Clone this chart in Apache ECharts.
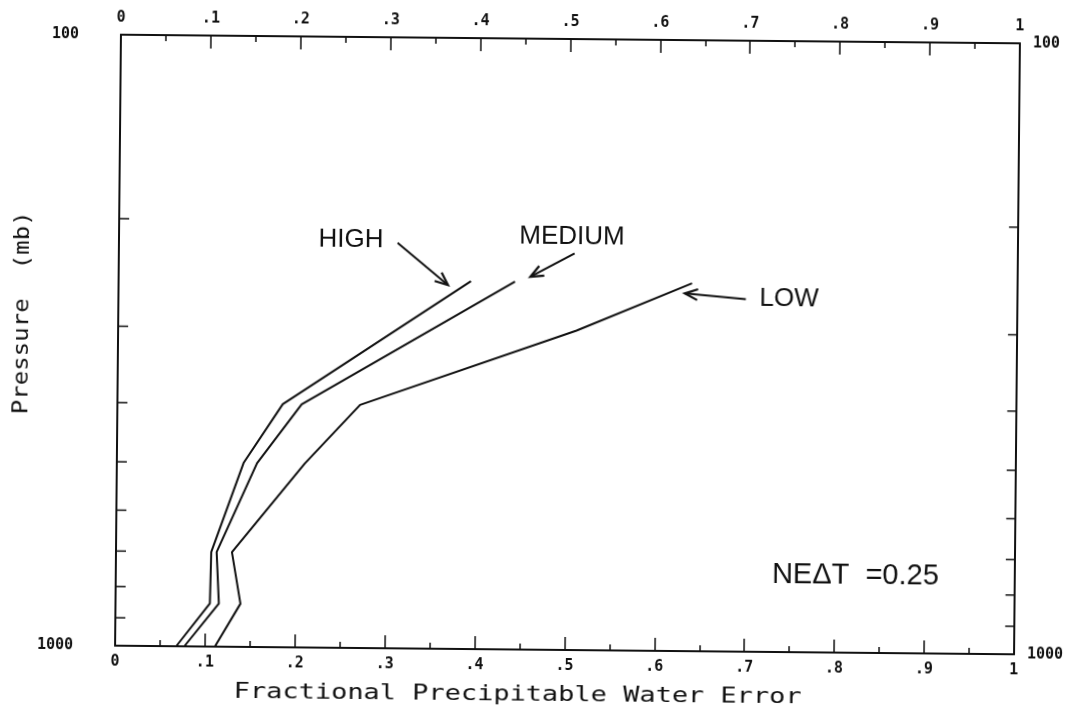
<!DOCTYPE html>
<html>
<head>
<meta charset="utf-8">
<script src="https://cdn.jsdelivr.net/npm/echarts@6.0.0/dist/echarts.min.js"></script>
<style>
  html, body { margin: 0; padding: 0; background: #ffffff; overflow: hidden; }
  /* the printed sheet sits slightly skewed */
  #chart { width: 1069px; height: 710px; transform: rotate(0.55deg); transform-origin: 568px 344px; }
</style>
</head>
<body>
<div id="chart"></div>
<script>
// Fractional precipitable water error vs. pressure level, three cases.
const highLevels   = [1000, 850, 700, 500, 400, 250];
const highError    = [0.068, 0.105, 0.106, 0.141, 0.184, 0.392];
const mediumLevels = [1000, 850, 700, 500, 400, 250];
const mediumError  = [0.077, 0.115, 0.112, 0.156, 0.205, 0.441];
const lowLevels    = [1000, 850, 700, 500, 400, 300, 250];
const lowError     = [0.111, 0.139, 0.129, 0.209, 0.270, 0.510, 0.638];

// Axis ticks
const pressureTicks = [200, 300, 400, 500, 600, 700, 800, 900];
const pressureRange = [100, 1000];
const errorRange = [0, 1];

// Curve call-outs (text position, arrow tail, arrow head) in data units
const callouts = [
  { text: 'HIGH',   at: [0.258, 214.7], from: [0.310, 216.9], to: [0.3665, 253.9] },
  { text: 'MEDIUM', at: [0.504, 210.7], from: [0.507, 224.4], to: [0.458, 245.4] },
  { text: 'LOW',    at: [0.746, 264.5], from: [0.698, 264.9], to: [0.630, 259.8] }
];
const noteText = 'NE\u0394T  =0.25';
const noteAt = [0.730, 748];

const xTitle = 'Fractional Precipitable Water Error';
const yTitle = 'Pressure  (mb)';

const ink = '#111111';
const monoFont = '"DejaVu Sans Mono", monospace';
const sansFont = '"Liberation Sans", Arial, sans-serif';

function pairs(xs, ps) { return ps.map((p, i) => [xs[i], p]); }

function fmtX(v) {
  const r = Math.round(v * 10);
  if (r === 0) return '0';
  if (r === 10) return '1';
  return '.' + r;
}

const axisLineStyle = { show: true, onZero: false, lineStyle: { color: ink, width: 2 } };
const labelStyle = { color: ink, fontFamily: monoFont, fontWeight: 'bold', fontSize: 15 };

function xAxisDef(position, major) {
  return {
    type: 'value', position: position,
    min: errorRange[0], max: errorRange[1], interval: major ? 0.1 : 0.05,
    axisLine: major ? axisLineStyle : { show: false, onZero: false },
    axisTick: { show: true, inside: true, length: major ? 13 : 6, lineStyle: { color: ink, width: 1.5 } },
    axisLabel: major ? Object.assign({ show: true, margin: 9, formatter: fmtX }, labelStyle) : { show: false },
    splitLine: { show: false }
  };
}

function yAxisDef(position, margin) {
  return {
    type: 'log', logBase: 10, position: position, inverse: true,
    min: pressureRange[0], max: pressureRange[1],
    axisLine: axisLineStyle,
    axisTick: { show: false },
    axisLabel: Object.assign({ show: true, margin: margin, formatter: v => String(Math.round(v)) }, labelStyle),
    splitLine: { show: false }
  };
}

const lineSeries = (name, data) => ({
  name: name, type: 'line', xAxisIndex: 0, yAxisIndex: 0,
  data: data, symbol: 'none', silent: true, animation: false,
  lineStyle: { color: ink, width: 2 }
});

const chart = echarts.init(document.getElementById('chart'), null, { renderer: 'canvas' });

chart.setOption({
  backgroundColor: '#ffffff',
  animation: false,
  grid: { left: 118, right: 51, top: 39, bottom: 60, containLabel: false },
  xAxis: [xAxisDef('bottom', true), xAxisDef('top', true), xAxisDef('bottom', false), xAxisDef('top', false)],
  yAxis: [yAxisDef('left', 42), yAxisDef('right', 13)],
  series: [
    lineSeries('HIGH', pairs(highError, highLevels)),
    lineSeries('MEDIUM', pairs(mediumError, mediumLevels)),
    lineSeries('LOW', pairs(lowError, lowLevels)),
    {
      // pressure ticks on both vertical frame edges
      type: 'custom', xAxisIndex: 0, yAxisIndex: 0, silent: true, clip: false,
      data: pressureTicks.map(p => [errorRange[0], p]),
      renderItem: (params, api) => {
        const p = api.value(1);
        const l = api.coord([errorRange[0], p]);
        const r = api.coord([errorRange[1], p]);
        return {
          type: 'group',
          children: [
            { type: 'line', shape: { x1: l[0], y1: l[1], x2: l[0] + 10, y2: l[1] }, style: { stroke: ink, lineWidth: 1.5 } },
            { type: 'line', shape: { x1: r[0] - 9, y1: r[1], x2: r[0], y2: r[1] }, style: { stroke: ink, lineWidth: 1.5 } }
          ]
        };
      }
    }
  ]
});

// Annotations are placed from data units through the chart's own coordinate system
const toPx = pt => chart.convertToPixel({ seriesIndex: 0 }, pt);

function arrowHead(tail, head, len, spread) {
  const ang = Math.atan2(head[1] - tail[1], head[0] - tail[0]);
  const a1 = ang + Math.PI - spread, a2 = ang + Math.PI + spread;
  return [
    [head[0] + len * Math.cos(a1), head[1] + len * Math.sin(a1)],
    head,
    [head[0] + len * Math.cos(a2), head[1] + len * Math.sin(a2)]
  ];
}

const graphics = [];
callouts.forEach(c => {
  const at = toPx(c.at), tail = toPx(c.from), head = toPx(c.to);
  graphics.push({
    type: 'text', x: at[0], y: at[1], silent: true,
    style: { text: c.text, font: '26px ' + sansFont, fill: ink, align: 'center', verticalAlign: 'middle' }
  });
  graphics.push({
    type: 'line', silent: true,
    shape: { x1: tail[0], y1: tail[1], x2: head[0], y2: head[1] },
    style: { stroke: ink, lineWidth: 2 }
  });
  graphics.push({
    type: 'polyline', silent: true,
    shape: { points: arrowHead(tail, head, 14, 0.4) },
    style: { stroke: ink, lineWidth: 2.2, fill: null }
  });
});

const note = toPx(noteAt);
graphics.push({
  type: 'text', x: note[0], y: note[1], silent: true,
  style: { text: noteText, font: '29px ' + sansFont, fill: ink, align: 'left', verticalAlign: 'middle' }
});

// Axis titles in a stretched monospace face
graphics.push({
  type: 'text', x: 521, y: 695, scaleX: 1.225, silent: true,
  style: { text: xTitle, font: '22px ' + monoFont, fill: ink, align: 'center', verticalAlign: 'middle' }
});
graphics.push({
  type: 'text', x: 22, y: 318, rotation: Math.PI / 2, scaleX: 1.095, silent: true,
  style: { text: yTitle, font: '22px ' + monoFont, fill: ink, align: 'center', verticalAlign: 'middle' }
});

chart.setOption({ graphic: graphics });
</script>
</body>
</html>
